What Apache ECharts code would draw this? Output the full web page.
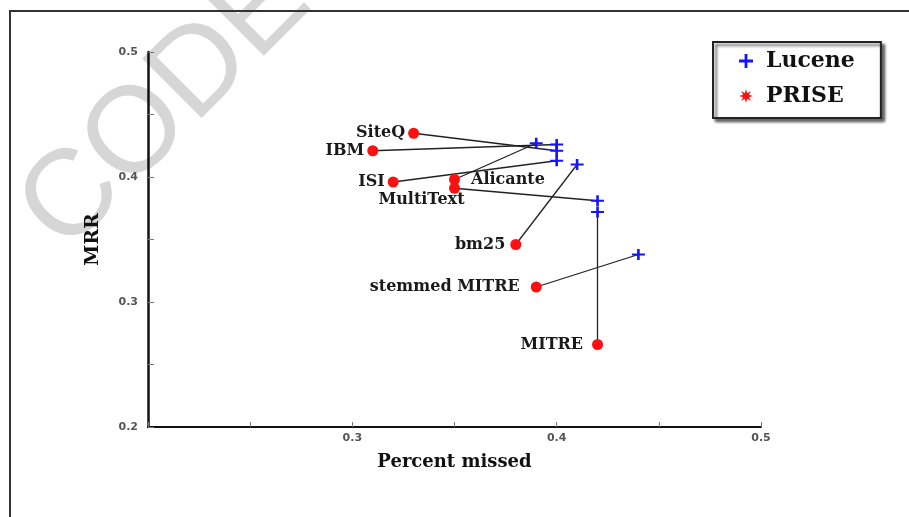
<!DOCTYPE html>
<html>
<head>
<meta charset="utf-8">
<script src="https://cdn.jsdelivr.net/npm/echarts@6/dist/echarts.min.js"></script>
<style>
  html, body { margin: 0; padding: 0; background: #fff; }
  #chart { width: 909px; height: 517px; }
</style>
</head>
<body>
<div id="chart"></div>
<script>
// systems, PRISE result and matching Lucene result (percent missed, MRR)
const systems = ['SiteQ', 'IBM', 'ISI', 'Alicante', 'MultiText', 'bm25', 'stemmed MITRE', 'MITRE'];
const priseX = [0.33, 0.31, 0.32, 0.35, 0.35, 0.38, 0.39, 0.42];
const priseY = [0.435, 0.421, 0.396, 0.398, 0.391, 0.346, 0.312, 0.266];
const luceneX = [0.40, 0.40, 0.40, 0.39, 0.42, 0.41, 0.44, 0.42];
const luceneY = [0.421, 0.426, 0.413, 0.427, 0.381, 0.410, 0.338, 0.372];
const tickValues = [0.2, 0.3, 0.4, 0.5];

const serif = '"DejaVu Serif", "Liberation Serif", serif';
const plusPath = 'path://M4,0H6V4H10V6H6V10H4V6H0V4H4Z';
const starPath = 'path://M10,5L7.03,5.84L8.54,8.54L5.84,7.03L5,10L4.16,7.03L1.46,8.54L2.97,5.84L0,5L2.97,4.16L1.46,1.46L4.16,2.97L5,0L5.84,2.97L8.54,1.46L7.03,4.16Z';

// where each label sits around its red dot
const labelPos = {
  'Alicante': { position: 'right', distance: 11 },
  'MultiText': { position: 'inside', offset: [-33, 12] },
  'bm25': { distance: 5 },
  'stemmed MITRE': { distance: 11 },
  'MITRE': { distance: 9 }
};

const chart = echarts.init(document.getElementById('chart'));

const isTick = (v) => tickValues.some(t => Math.abs(t - v) < 1e-6);

const option = {
  animation: false,
  grid: { left: 148, right: 148, top: 52, bottom: 90 },
  graphic: [
    {
      type: 'text', z: -10, x: 166, y: 106, rotation: Math.PI / 4,
      style: {
        text: 'CODE', fill: '#d6d6d6', font: '122px "Liberation Sans", Arial, sans-serif',
        textAlign: 'center', textVerticalAlign: 'middle'
      }
    },
    { type: 'line', shape: { x1: 9, y1: 11, x2: 909, y2: 11 }, style: { stroke: '#333', lineWidth: 2 } },
    { type: 'line', shape: { x1: 10, y1: 11, x2: 10, y2: 517 }, style: { stroke: '#333', lineWidth: 2 } }
  ],
  legend: {
    orient: 'vertical',
    left: 713, top: 42,
    padding: [8, 26, 11, 26],
    itemWidth: 30, itemHeight: 14, itemGap: 13,
    backgroundColor: '#fff',
    borderColor: '#222', borderWidth: 2,
    shadowColor: 'rgba(0,0,0,0.6)', shadowBlur: 3, shadowOffsetX: 3, shadowOffsetY: 3,
    textStyle: { fontFamily: serif, fontWeight: 'bold', fontSize: 22, color: '#111' },
    data: [
      { name: 'Lucene', icon: plusPath, itemStyle: { color: '#1414ff' } },
      { name: 'PRISE', icon: starPath, itemStyle: { color: '#ff1010' } }
    ]
  },
  xAxis: {
    type: 'value', min: 0.2, max: 0.5, interval: 0.05,
    name: 'Percent missed', nameLocation: 'middle', nameGap: 26,
    nameTextStyle: { fontFamily: serif, fontWeight: 'bold', fontSize: 18, color: '#111' },
    axisLine: { lineStyle: { color: '#111', width: 2 } },
    axisTick: { inside: true, length: 5, lineStyle: { color: '#777' } },
    axisLabel: {
      margin: 6, color: '#555', fontWeight: 'bold', fontSize: 11, fontFamily: '"DejaVu Sans", sans-serif',
      formatter: v => (isTick(v) && v > 0.2 + 1e-6) ? v.toFixed(1) : ''
    },
    splitLine: { show: false }
  },
  yAxis: {
    type: 'value', min: 0.2, max: 0.5, interval: 0.05,
    name: 'MRR', nameLocation: 'middle', nameGap: 45,
    nameTextStyle: { fontFamily: serif, fontWeight: 'bold', fontSize: 19, color: '#111' },
    axisLine: { lineStyle: { color: '#111', width: 2.5 } },
    axisTick: { inside: true, length: 6, lineStyle: { color: '#777' } },
    axisLabel: {
      margin: 10, color: '#555', fontWeight: 'bold', fontSize: 11, fontFamily: '"DejaVu Sans", sans-serif',
      formatter: v => isTick(v) ? v.toFixed(1) : ''
    },
    splitLine: { show: false }
  },
  series: [
    {
      type: 'lines',
      coordinateSystem: 'cartesian2d',
      silent: true,
      lineStyle: { color: '#222', width: 1.3, opacity: 1 },
      data: systems.map((s, i) => ({ coords: [[priseX[i], priseY[i]], [luceneX[i], luceneY[i]]] }))
    },
    {
      name: 'Lucene',
      type: 'scatter',
      symbol: plusPath,
      symbolSize: [13, 11],
      itemStyle: { color: '#1414ff', opacity: 1 },
      data: luceneX.map((x, i) => [x, luceneY[i]])
    },
    {
      name: 'PRISE',
      type: 'scatter',
      symbol: 'circle',
      symbolSize: 11,
      itemStyle: { color: '#ff1010', opacity: 1 },
      label: {
        show: true, position: 'left', distance: 3,
        fontFamily: serif, fontWeight: 'bold', fontSize: 16, color: '#1a1a1a',
        formatter: p => p.name
      },
      data: systems.map((s, i) => ({
        name: s,
        value: [priseX[i], priseY[i]],
        label: labelPos[s] || {}
      }))
    }
  ]
};

chart.setOption(option);
window.addEventListener('resize', () => chart.resize());
</script>
</body>
</html>
